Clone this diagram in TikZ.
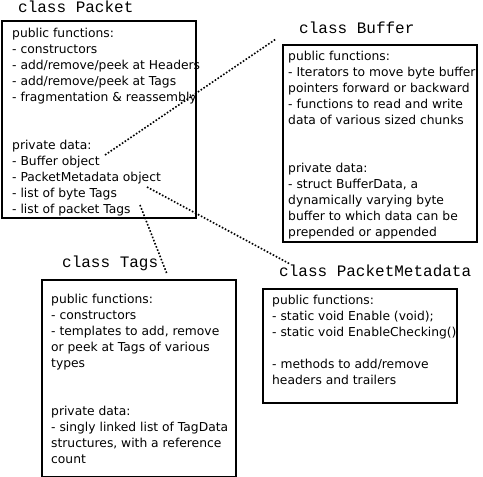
\documentclass[tikz,border=0pt]{standalone}
\usepackage{fontspec}
\setmainfont{DejaVu Sans}
\newfontfamily\classfont{Liberation Mono}

\begin{document}
\begin{tikzpicture}[x=1pt, y=-1pt,
            classbox/.style={draw, line width=1.6pt, anchor=north west, inner sep=0pt},
            classname/.style={font=\classfont\fontsize{16}{16}\selectfont, anchor=base west, inner sep=0pt},
            body/.style={font=\fontsize{12.3}{16}\selectfont, anchor=base west, inner sep=0pt},
            link/.style={line width=1.6pt, dash pattern=on 1.6pt off 1.8pt},
        ]
        \useasboundingbox (0,0) rectangle (483,477);
        % class Packet
        \node[classname] (pktitle) at (18,12) {class Packet};
        \node[classbox, minimum width=194pt, minimum height=197pt] (packet) at (1,20) {};
        \foreach \n/\txt in {1/{public functions:}, 2/{- constructors},
            3/{- add/remove/peek at Headers}, 4/{- add/remove/peek at Tags},
            5/{- fragmentation \& reassembly}, 8/{private data:}, 9/{- Buffer object},
            10/{- PacketMetadata object}, 11/{- list of byte Tags}, 12/{- list of packet Tags}}
            \node[body] (pk\n) at (12,{21.5+16*\n}) {\txt};
        % class Buffer
        \node[classname] (buftitle) at (299,33) {class Buffer};
        \node[classbox, minimum width=194pt, minimum height=197pt] (buffer) at (282,44) {};
        \foreach \n/\txt in {1/{public functions:}, 2/{- Iterators to move byte buffer},
            3/{pointers forward or backward}, 4/{- functions to read and write},
            5/{data of various sized chunks}, 8/{private data:}, 9/{- struct BufferData, a},
            10/{dynamically varying byte}, 11/{buffer to which data can be}, 12/{prepended or appended}}
            \node[body] (buf\n) at (288,{44.5+16*\n}) {\txt};
        % class Tags
        \node[classname] (tagtitle) at (62,267) {class Tags};
        \node[classbox, minimum width=194pt, minimum height=197pt] (tags) at (41,279) {};
        \foreach \n/\txt in {1/{public functions:}, 2/{- constructors},
            3/{- templates to add, remove}, 4/{or peek at Tags of various}, 5/{types},
            8/{private data:}, 9/{- singly linked list of TagData},
            10/{structures, with a reference}, 11/{count}}
            \node[body] (tag\n) at (51,{287+16*\n}) {\txt};
        % class PacketMetadata
        \node[classname] (metatitle) at (279,276) {class PacketMetadata};
        \node[classbox, minimum width=194pt, minimum height=114pt] (meta) at (262,288) {};
        \foreach \n/\txt in {1/{public functions:}, 2/{- static void Enable (void);},
            3/{- static void EnableChecking()}, 5/{- methods to add/remove},
            6/{headers and trailers}}
            \node[body] (meta\n) at (272,{288.5+16*\n}) {\txt};
        % dotted links
        \coordinate (pkbuf) at (105,155);
        \coordinate (bufend) at (276,39);
        \coordinate (pkmeta) at (147,187);
        \coordinate (metaend) at (290,264);
        \coordinate (pktag) at (140,205);
        \coordinate (tagend) at (167,274);
        \draw[link] (pkbuf) -- (bufend);
        \draw[link] (pkmeta) -- (metaend);
        \draw[link] (pktag) -- (tagend);
    \end{tikzpicture}
\end{document}
